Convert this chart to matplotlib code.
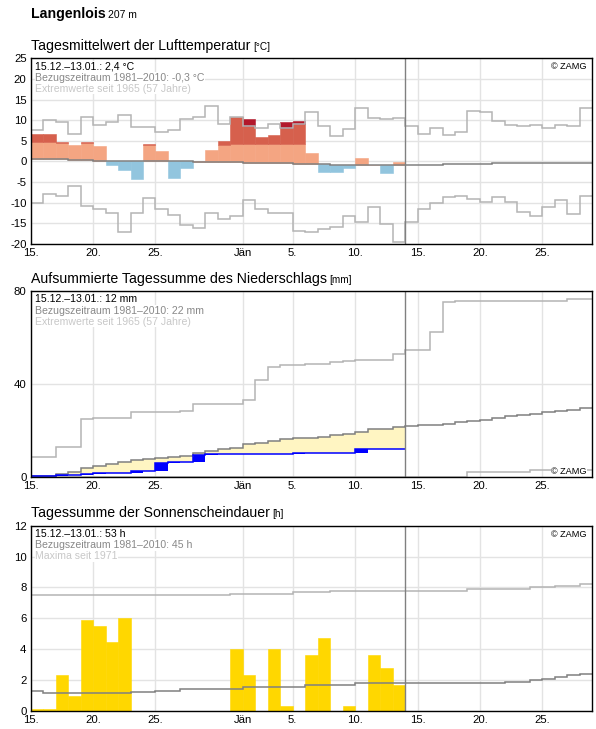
import numpy as np
import matplotlib.pyplot as plt

plt.rcParams['font.family'] = ['Liberation Sans', 'DejaVu Sans']
plt.rcParams['axes.unicode_minus'] = False

# Tage ab 15.12. (Index 0), heute = 14.01.
station = 'Langenlois'
station_height = '207 m'
tick_days = [0, 5, 10, 17, 21, 26, 31, 36, 41]
tick_labels = ['15.', '20.', '25.', 'Jän', '5.', '10.', '15.', '20.', '25.']
n_days = 45
today = 30

# Lufttemperatur (Tagesmittel, °C)
temp_obs = [6.7, 6.7, 4.8, 4.0, 4.6, 3.8, -0.8, -2.0, -4.2, 4.3,
            2.5, -3.9, -1.5, 0.1, 2.8, 5.0, 10.7, 10.3, 5.9, 6.4,
            9.6, 9.9, 2.1, -2.5, -2.5, -1.7, 0.9, -0.8, -2.9, -0.1]
temp_thr = [4.6, 4.6, 4.4, 4.4, 4.4, 4.3, 4.3, 4.3, 4.2, 4.1,
            4.1, 4.1, 4.1, 4.1, 4.1, 4.1, 4.2, 4.2, 4.2, 4.2,
            4.2, 4.2, 4.1, 4.0, 4.0, 4.0, 4.0, 4.0, 4.0, 4.0]
temp_norm = [0.6, 0.6, 0.5, 0.4, 0.3, 0.2, 0.1, 0.2, 0.1, 0.0,
             0.0, 0.0, 0.0, -0.1, -0.2, -0.2, -0.2, -0.3, -0.3, -0.4,
             -0.4, -0.5, -0.6, -0.7, -0.8, -0.8, -0.8, -0.8, -0.8, -0.8,
             -0.8, -0.8, -0.8, -0.7, -0.7, -0.6, -0.6, -0.3, -0.3, -0.3,
             -0.3, -0.3, -0.3, -0.3, -0.3]
temp_max = [7.6, 10.0, 9.6, 6.7, 10.7, 8.8, 9.6, 11.3, 8.3, 8.3,
            7.1, 7.6, 10.2, 10.7, 13.4, 9.2, 10.7, 8.6, 8.0, 9.0,
            8.2, 9.1, 12.1, 8.6, 6.2, 7.8, 12.9, 10.5, 10.2, 10.5,
            8.6, 6.6, 8.0, 6.3, 7.1, 12.2, 11.9, 9.7, 8.9, 8.6,
            8.8, 8.1, 8.9, 8.6, 12.9]
temp_min = [-10.0, -7.9, -8.4, -5.9, -10.8, -11.6, -12.5, -17.0, -12.4, -8.9,
            -11.6, -13.0, -15.5, -16.2, -12.5, -14.0, -13.2, -9.4, -11.6, -12.5,
            -12.4, -16.8, -17.2, -16.4, -15.9, -13.2, -14.6, -11.1, -15.1, -19.6,
            -14.6, -11.6, -10.0, -8.7, -8.4, -9.2, -9.9, -8.7, -9.9, -12.2,
            -13.2, -11.1, -9.4, -12.7, -8.4]

# Niederschlag (Tagessumme mm, kumuliert dargestellt)
prec_day = [0.5, 0.0, 0.3, 0.0, 0.7, 0.2, 0.0, 0.0, 0.7, 0.1,
            3.6, 0.3, 0.2, 2.7, 0.4, 0.3, 0.0, 0.0, 0.0, 0.0,
            0.0, 0.5, 0.0, 0.0, 0.0, 0.0, 1.4, 0.0, 0.0, 0.0]
prec_norm = [0.3, 0.6, 1.2, 2.3, 3.7, 4.7, 5.5, 6.6, 7.5, 7.9,
             8.2, 8.5, 9.2, 10.5, 11.1, 11.9, 12.7, 14.1, 14.8, 15.7,
             16.4, 16.7, 16.8, 17.1, 18.1, 18.7, 19.6, 20.6, 20.7, 21.4,
             21.9, 22.2, 22.4, 22.9, 23.6, 24.3, 24.6, 25.3, 26.2, 26.8,
             27.2, 27.9, 28.5, 28.9, 29.6]
prec_max = [8.8, 8.8, 13.1, 13.1, 24.9, 25.6, 25.6, 25.6, 28.1, 28.1,
            28.1, 28.1, 28.5, 31.4, 31.4, 31.4, 31.4, 33.1, 41.7, 47.3,
            48.3, 48.3, 48.8, 48.8, 49.5, 50.0, 50.4, 50.4, 50.4, 52.9,
            54.7, 54.7, 62.4, 75.4, 76.0, 76.0, 76.0, 76.0, 76.0, 76.0,
            76.0, 76.0, 76.0, 76.8, 76.8]
prec_min = [0.0] * 35 + [2.0] * 5 + [3.0] * 5

# Sonnenscheindauer (h)
sun_obs = [0.1, 0.1, 2.3, 1.0, 5.9, 5.5, 4.5, 6.0, 0.0, 0.0,
           0.0, 0.0, 0.0, 0.0, 0.0, 0.0, 4.0, 2.3, 0.0, 4.0,
           0.3, 0.0, 3.6, 4.75, 0.0, 0.3, 0.0, 3.6, 2.8, 1.7]
sun_norm = [1.3, 1.15, 1.15, 1.15, 1.15, 1.15, 1.15, 1.15, 1.2, 1.2,
            1.3, 1.3, 1.45, 1.45, 1.45, 1.45, 1.45, 1.55, 1.55, 1.55,
            1.55, 1.55, 1.7, 1.7, 1.7, 1.7, 1.8, 1.8, 1.8, 1.8,
            1.8, 1.8, 1.8, 1.8, 1.8, 1.8, 1.8, 1.8, 1.9, 1.9,
            2.0, 2.05, 2.2, 2.3, 2.4]
sun_max = [7.5] * 16 + [7.6] * 5 + [7.7] * 3 + [7.8] * 11 + [7.9] * 5 + [8.0] * 2 + [8.1] * 2 + [8.2]

C_NORM = '#808080'
C_EXT = '#b4b4b4'
C_GRID = '#e3e3e3'

W, H = 596, 729
fig = plt.figure(figsize=(W / 100, H / 100), dpi=100)


def px_axes(left, top, right, bottom):
    return fig.add_axes([left / W, 1 - bottom / H, (right - left) / W, (bottom - top) / H])


def style(ax, ylim, yticks):
    ax.set_xlim(0, n_days)
    ax.set_ylim(*ylim)
    ax.set_xticks(tick_days)
    ax.set_xticklabels(tick_labels)
    ax.set_yticks(yticks)
    ax.tick_params(length=0, labelsize=8.2, pad=3)
    ax.grid(True, color=C_GRID, lw=1)
    ax.set_axisbelow(True)
    for s in ax.spines.values():
        s.set_linewidth(1)
        s.set_color('black')
        s.set_zorder(7)
    ax.axvline(today, color=C_NORM, lw=1, zorder=5)


def info(ax, lines, zamg_top=True):
    cols = ['black', '#888888', '#c8c8c8']
    for i, txt in enumerate(lines):
        ax.annotate(txt, xy=(0, 1), xycoords='axes fraction',
                    xytext=(4.5, -11 - 11.3 * i), textcoords='offset pixels',
                    color=cols[i], fontsize=7.6, va='baseline', zorder=6,
                    bbox=dict(fc='white', ec='none', pad=0.4))
    if zamg_top:
        xy, off = (1, 1), (-5.5, -11)
    else:
        xy, off = (1, 0), (-5.5, 2.5)
    ax.annotate('© ZAMG', xy=xy, xycoords='axes fraction', xytext=off,
                textcoords='offset pixels', ha='right', va='baseline',
                fontsize=6.6, zorder=6, bbox=dict(fc='white', ec='none', pad=0.4))


def title(y, big, small, bold=False, small_size=7.2):
    t = fig.text(30.7 / W, 1 - y / H, big, fontsize=10.2, va='baseline',
                 fontweight='bold' if bold else 'normal')
    bb = t.get_window_extent(fig.canvas.get_renderer())
    fig.text((bb.x1 + 3) / W, 1 - y / H, small, fontsize=small_size, va='baseline')


edges = np.arange(n_days + 1)
obs_days = np.arange(len(temp_obs))
obs_edges = np.arange(len(temp_obs) + 1)

# --- Temperatur ---
ax1 = px_axes(30.7, 58.3, 592.3, 244)
style(ax1, (-20, 25), np.arange(-20, 26, 5))
T = np.array(temp_obs)
thr = np.array(temp_thr)
N = np.array(temp_norm)[:len(T)]
mx = np.array(temp_max)[:len(T)]
bar_kw = dict(width=1, align='edge', linewidth=0.4, zorder=2)
warm = T >= N
ax1.bar(obs_days[warm], (np.minimum(T, thr) - N)[warm], bottom=N[warm],
        color='#f4a582', edgecolor='#f4a582', **bar_kw)
red = warm & (T > thr)
ax1.bar(obs_days[red], (np.minimum(T, mx) - thr)[red], bottom=thr[red],
        color='#d6604d', edgecolor='#d6604d', **bar_kw)
rec = T > mx
ax1.bar(obs_days[rec], (T - mx)[rec], bottom=mx[rec],
        color='#b2182b', edgecolor='#b2182b', **bar_kw)
cold = T < N
ax1.bar(obs_days[cold], (T - N)[cold], bottom=N[cold],
        color='#92c5de', edgecolor='#92c5de', **bar_kw)
ax1.stairs(temp_max, edges, baseline=None, color=C_EXT, lw=1.1, zorder=3)
ax1.stairs(temp_min, edges, baseline=None, color=C_EXT, lw=1.1, zorder=3)
ax1.stairs(temp_norm, edges, baseline=None, color=C_NORM, lw=1.1, zorder=4)
info(ax1, ['15.12.–13.01.: 2,4 °C', 'Bezugszeitraum 1981–2010: -0,3 °C',
           'Extremwerte seit 1965 (57 Jahre)'])

# --- Niederschlag ---
ax2 = px_axes(30.7, 291.3, 592.3, 477)
style(ax2, (0, 80), [0, 40, 80])
P = np.array(prec_day)
cum = np.cumsum(P)
pn = np.array(prec_norm)[:len(P)]
ax2.stairs(np.maximum(pn, cum), obs_edges, baseline=cum, fill=True,
           color='#fff5c2', lw=0, zorder=2)
wet = P > 0
ax2.bar(obs_days[wet], P[wet], bottom=(cum - P)[wet], width=1, align='edge',
        color='#0000ff', lw=0, zorder=3)
ax2.stairs(prec_max, edges, baseline=None, color=C_EXT, lw=1.1, zorder=3)
ax2.stairs(prec_min, edges, baseline=None, color=C_EXT, lw=1.1, zorder=3)
ax2.stairs(prec_norm, edges, baseline=None, color=C_NORM, lw=1.1, zorder=4)
ax2.stairs(cum, obs_edges, baseline=None, color='#0000ff', lw=1.1, zorder=4)
info(ax2, ['15.12.–13.01.: 12 mm', 'Bezugszeitraum 1981–2010: 22 mm',
           'Extremwerte seit 1965 (57 Jahre)'], zamg_top=False)

# --- Sonnenschein ---
ax3 = px_axes(30.7, 525.7, 592.3, 711)
style(ax3, (0, 12), np.arange(0, 13, 2))
ax3.bar(obs_days, sun_obs, width=1, align='edge', color='#ffd700',
        edgecolor='#ffd700', linewidth=0.4, zorder=2)
ax3.stairs(sun_max, edges, baseline=None, color=C_EXT, lw=1.1, zorder=3)
ax3.stairs(sun_norm, edges, baseline=None, color=C_NORM, lw=1.1, zorder=4)
info(ax3, ['15.12.–13.01.: 53 h', 'Bezugszeitraum 1981–2010: 45 h',
           'Maxima seit 1971'])

title(18.3, station, station_height, bold=True, small_size=7.5)
title(50, 'Tagesmittelwert der Lufttemperatur', '[°C]')
title(283.3, 'Aufsummierte Tagessumme des Niederschlags', '[mm]')
title(517.3, 'Tagessumme der Sonnenscheindauer', '[h]')

fig.savefig('out.png', dpi=100)
